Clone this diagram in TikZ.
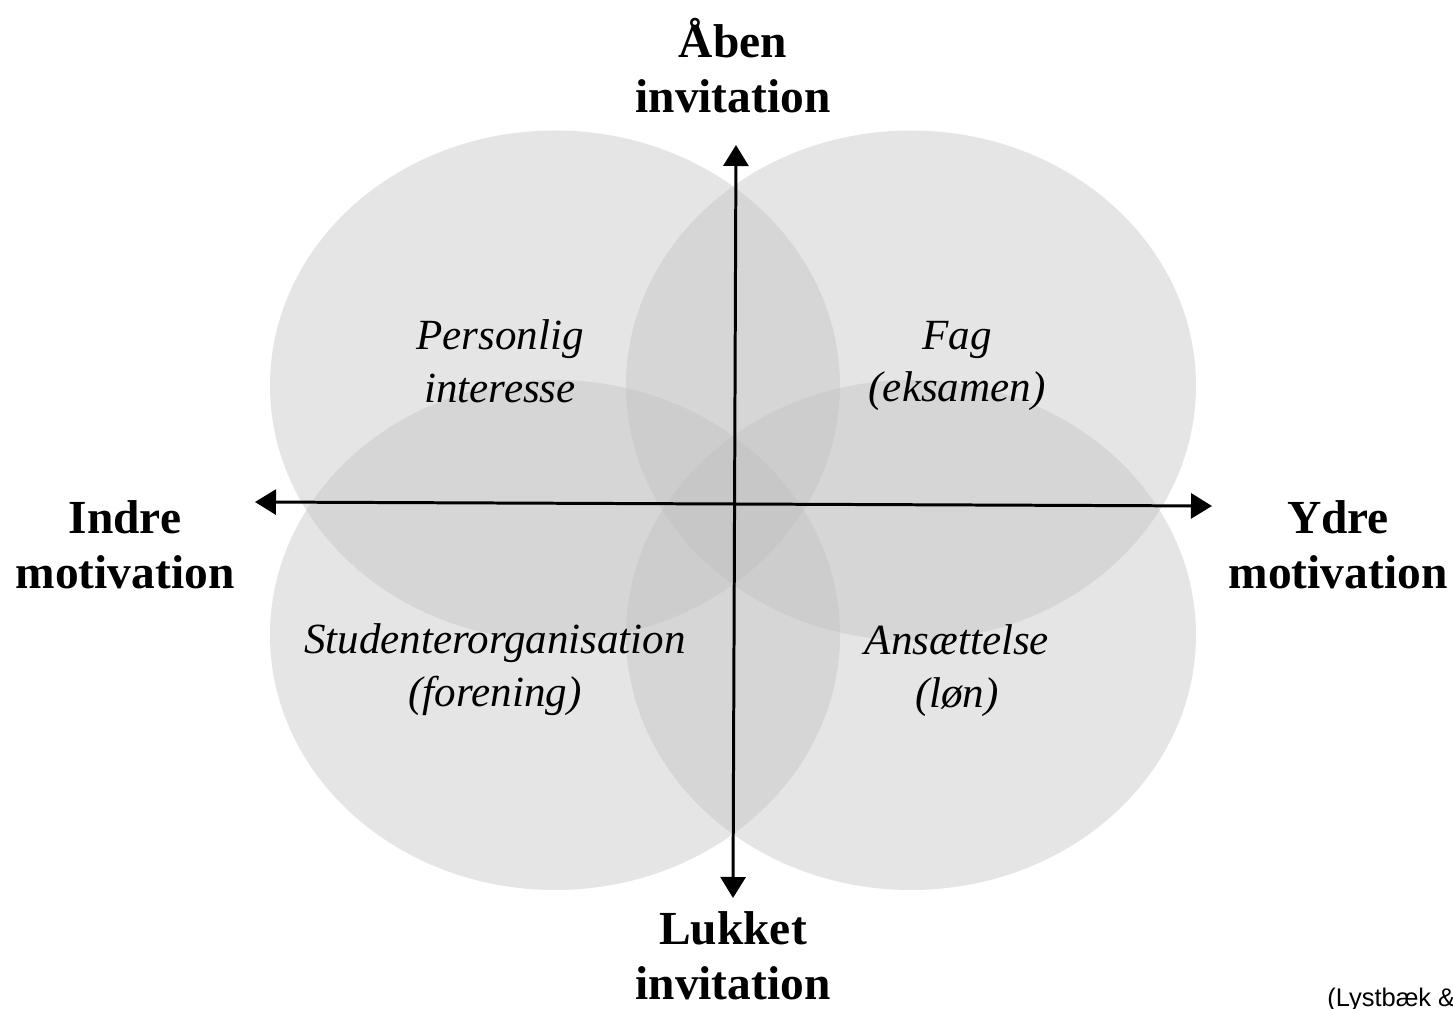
\documentclass[tikz,border=0pt]{standalone}
\usepackage{fontspec}
\setmainfont{Liberation Serif}
\newfontfamily\citefont{Liberation Sans}
\usetikzlibrary{arrows.meta,positioning}

\begin{document}
\begin{tikzpicture}[
  blob/.style={fill=black!25, fill opacity=0.4, draw=none},
  axis label/.style={align=center, font=\fontsize{27}{31.3}\selectfont\bfseries},
  field label/.style={align=center, font=\fontsize{24.5}{30}\selectfont\itshape},
  >={Triangle[width=0.5cm, length=0.42cm]}
]
  \useasboundingbox (-14.7,-10.12) rectangle (14.36,10.06);

  % Four overlapping fields
  \fill[blob] (-3.6, 2.35) ellipse [x radius=5.7, y radius=5.1];
  \fill[blob] (3.52, 2.35) ellipse [x radius=5.7, y radius=5.1];
  \fill[blob] (-3.6,-2.64) ellipse [x radius=5.7, y radius=5.1];
  \fill[blob] (3.52,-2.64) ellipse [x radius=5.7, y radius=5.1];

  % Axis ends
  \coordinate (west)  at (-9.6, 0.02);
  \coordinate (east)  at (9.54,-0.06);
  \coordinate (north) at (0.02, 7.16);
  \coordinate (south) at (-0.04,-7.9);

  \draw[<->, line width=1.7pt] (west) -- (east);
  \draw[<->, line width=1.7pt] (south) -- (north);

  % Axis labels
  \node[axis label] (open)   at (-0.04, 8.74)  {Åben\\invitation};
  \node[axis label] (closed) at (-0.04,-9.06)  {Lukket\\invitation};
  \node[axis label] (inner)  at (-12.2,-0.84)  {Indre\\motivation};
  \node[axis label] (outer)  at (12.06,-0.84)  {Ydre\\motivation};

  % Field labels
  \node[field label] (personal) at (-4.7, 2.84) {Personlig\\interesse};
  \node[field label] (subject)  at (4.44, 2.74) {Fag\\(eksamen)};
  \node[field label] (union)    at (-4.8,-3.34) {Studenterorganisation\\(forening)};
  \node[field label] (job)      at (4.44,-3.36) {Ansættelse\\(løn)};

  \node[anchor=base west, inner sep=0pt, font=\citefont\fontsize{14.5}{16}\selectfont] (source) at (11.84,-10.06) {(Lystbæk \&};
\end{tikzpicture}
\end{document}
